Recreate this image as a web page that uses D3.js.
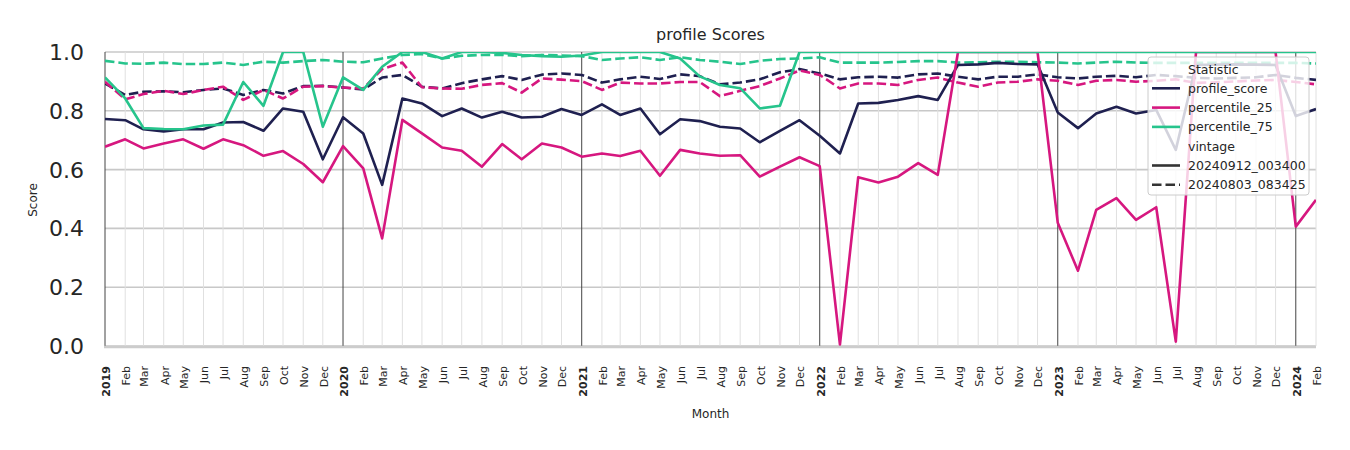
<!DOCTYPE html>
<html>
<head>
<meta charset="utf-8">
<script src="https://cdn.jsdelivr.net/npm/d3@7"></script>
<style>
  body { margin: 0; background: #fff; }
  svg text { font-family: "DejaVu Sans", sans-serif; fill: #262626; }
</style>
</head>
<body>
<svg id="chart" width="1350" height="450"></svg>
<script>
// months Jan 2019 .. Feb 2024
const months = d3.timeMonth.range(new Date(2019, 0, 1), new Date(2024, 2, 1));

const profileNew = [
  0.772, 0.768, 0.737, 0.730, 0.737, 0.737, 0.760, 0.762, 0.732, 0.808, 0.797, 0.635,
  0.778, 0.723, 0.548, 0.842, 0.825, 0.782, 0.808, 0.777, 0.797, 0.777, 0.780, 0.806,
  0.786, 0.822, 0.786, 0.808, 0.720, 0.771, 0.765, 0.746, 0.740, 0.693, 0.732, 0.768,
  0.715, 0.655, 0.825, 0.827, 0.837, 0.850, 0.837, 0.956, 0.958, 0.963, 0.959, 0.958,
  0.794, 0.741, 0.791, 0.814, 0.791, 0.803, 0.667, 0.956, 0.957, 0.958, 0.957, 0.956,
  0.782, 0.806
];
const p25New = [
  0.678, 0.703, 0.672, 0.689, 0.703, 0.671, 0.703, 0.683, 0.647, 0.663, 0.619, 0.557,
  0.680, 0.604, 0.366, 0.769, 0.723, 0.675, 0.664, 0.610, 0.687, 0.635, 0.689, 0.675,
  0.644, 0.655, 0.646, 0.664, 0.579, 0.667, 0.655, 0.647, 0.649, 0.576, 0.610, 0.642,
  0.612, 0.005, 0.574, 0.556, 0.576, 0.622, 0.582, 1.0, 1.0, 1.0, 1.0, 1.0,
  0.419, 0.256, 0.463, 0.503, 0.429, 0.472, 0.015, 1.0, 1.0, 1.0, 1.0, 1.0,
  0.406, 0.497
];
const p75New = [
  0.914, 0.842, 0.741, 0.738, 0.737, 0.750, 0.753, 0.898, 0.817, 1.0, 1.0, 0.746,
  0.914, 0.871, 0.950, 1.0, 1.0, 0.978, 1.0, 1.0, 0.997, 0.990, 0.986, 0.984,
  0.988, 1.0, 1.0, 1.0, 1.0, 0.978, 0.917, 0.888, 0.877, 0.808, 0.817, 1.0,
  1.0, 1.0, 1.0, 1.0, 1.0, 1.0, 1.0, 1.0, 1.0, 1.0, 1.0, 1.0,
  1.0, 1.0, 1.0, 1.0, 1.0, 1.0, 1.0, 1.0, 1.0, 1.0, 1.0, 1.0,
  1.0, 1.0
];
const profileOld = [
  0.893, 0.854, 0.865, 0.866, 0.863, 0.871, 0.876, 0.854, 0.871, 0.859, 0.884, 0.885,
  0.879, 0.873, 0.913, 0.922, 0.882, 0.876, 0.894, 0.907, 0.918, 0.905, 0.923, 0.927,
  0.922, 0.896, 0.907, 0.916, 0.908, 0.924, 0.918, 0.890, 0.896, 0.907, 0.931, 0.942,
  0.927, 0.907, 0.914, 0.916, 0.913, 0.924, 0.927, 0.916, 0.907, 0.916, 0.916, 0.924,
  0.914, 0.910, 0.916, 0.919, 0.914, 0.922, 0.918, 0.912, 0.910, 0.912, 0.914, 0.922,
  0.912, 0.905
];
const p25Old = [
  0.899, 0.839, 0.857, 0.868, 0.857, 0.871, 0.882, 0.837, 0.871, 0.842, 0.882, 0.884,
  0.879, 0.876, 0.942, 0.964, 0.880, 0.876, 0.875, 0.888, 0.894, 0.862, 0.910, 0.906,
  0.901, 0.871, 0.896, 0.893, 0.893, 0.898, 0.898, 0.850, 0.868, 0.884, 0.910, 0.937,
  0.922, 0.876, 0.893, 0.893, 0.888, 0.905, 0.913, 0.896, 0.882, 0.896, 0.899, 0.907,
  0.902, 0.888, 0.902, 0.905, 0.899, 0.902, 0.907, 0.895, 0.897, 0.900, 0.903, 0.905,
  0.898, 0.890
];
const p75Old = [
  0.970, 0.961, 0.960, 0.964, 0.959, 0.959, 0.964, 0.956, 0.967, 0.964, 0.969, 0.973,
  0.967, 0.965, 0.978, 0.990, 0.993, 0.978, 0.987, 0.990, 0.990, 0.986, 0.990, 0.988,
  0.986, 0.973, 0.978, 0.982, 0.973, 0.982, 0.973, 0.967, 0.959, 0.970, 0.976, 0.978,
  0.982, 0.964, 0.964, 0.964, 0.966, 0.969, 0.969, 0.964, 0.965, 0.967, 0.967, 0.965,
  0.964, 0.961, 0.964, 0.967, 0.964, 0.963, 0.963, 0.963, 0.963, 0.963, 0.963, 0.963,
  0.963, 0.961
];

const statistics = ["profile_score", "percentile_25", "percentile_75"];
const vintages = ["20240912_003400", "20240803_083425"];
const yTicks = [0, 0.2, 0.4, 0.6, 0.8, 1.0];
const monthNames = ["Jan", "Feb", "Mar", "Apr", "May", "Jun", "Jul", "Aug", "Sep", "Oct", "Nov", "Dec"];

const colors = { profile_score: "#1f2050", percentile_25: "#d6177f", percentile_75: "#26c48c" };

const series = [
  { stat: "profile_score", vintage: vintages[1], values: profileOld },
  { stat: "percentile_25", vintage: vintages[1], values: p25Old },
  { stat: "percentile_75", vintage: vintages[1], values: p75Old },
  { stat: "profile_score", vintage: vintages[0], values: profileNew },
  { stat: "percentile_25", vintage: vintages[0], values: p25New },
  { stat: "percentile_75", vintage: vintages[0], values: p75New }
];

const plotL = 105, plotR = 1316, plotT = 52, plotB = 346;
const svg = d3.select("#chart");

const x = d3.scaleTime().domain([months[0], months[months.length - 1]]).range([plotL, plotR]);
const y = d3.scaleLinear().domain([0, 1]).range([plotB, plotT]);

// horizontal grid
svg.append("g").selectAll("line").data(yTicks).join("line")
  .attr("x1", plotL).attr("x2", plotR)
  .attr("y1", d => y(d)).attr("y2", d => y(d))
  .attr("stroke", "#c8c8c8").attr("stroke-width", 1.6);

// vertical month grid
svg.append("g").selectAll("line").data(months).join("line")
  .attr("x1", d => x(d)).attr("x2", d => x(d))
  .attr("y1", plotT).attr("y2", plotB)
  .attr("stroke", d => d.getMonth() === 0 ? "#444" : "#e0e0e0")
  .attr("stroke-width", 1);

// bottom spine
svg.append("line").attr("x1", plotL - 1).attr("x2", plotR)
  .attr("y1", plotB + 1).attr("y2", plotB + 1)
  .attr("stroke", "#cccccc").attr("stroke-width", 2.5);

// y tick labels
svg.append("g").selectAll("text").data(yTicks).join("text")
  .attr("x", 84).attr("y", d => y(d))
  .attr("dy", "0.36em").attr("text-anchor", "end")
  .style("font-size", "22px")
  .text(d => d.toFixed(1));

// x tick labels
svg.append("g").selectAll("text").data(months).join("text")
  .attr("transform", d => `translate(${x(d) + 1},366) rotate(-90)`)
  .attr("dy", "0.35em").attr("text-anchor", "end")
  .style("font-size", "11px")
  .style("font-weight", d => d.getMonth() === 0 ? "bold" : "normal")
  .text(d => d.getMonth() === 0 ? d.getFullYear() : monthNames[d.getMonth()]);

// clip
svg.append("clipPath").attr("id", "plot-clip").append("rect")
  .attr("x", plotL).attr("y", plotT).attr("width", plotR - plotL).attr("height", plotB - plotT);

const line = d3.line().x((d, i) => x(months[i])).y(d => y(d));

svg.append("g").attr("clip-path", "url(#plot-clip)")
  .selectAll("path").data(series).join("path")
  .attr("d", d => line(d.values))
  .attr("fill", "none")
  .attr("stroke", d => colors[d.stat])
  .attr("stroke-width", 2.6)
  .attr("stroke-linejoin", "round")
  .attr("stroke-dasharray", d => d.vintage === vintages[1] ? "9.5,4" : null);

// title and axis labels
svg.append("text").attr("x", (plotL + plotR) / 2).attr("y", 40)
  .attr("text-anchor", "middle").style("font-size", "16px").text("profile Scores");
svg.append("text").attr("x", (plotL + plotR) / 2).attr("y", 418)
  .attr("text-anchor", "middle").style("font-size", "12px").text("Month");
svg.append("text").attr("transform", "translate(37,200) rotate(-90)")
  .attr("text-anchor", "middle").style("font-size", "12px").text("Score");

// legend
const lg = svg.append("g");
lg.append("rect").attr("x", 1148).attr("y", 57).attr("width", 161).attr("height", 138)
  .attr("rx", 3).attr("fill", "rgba(255,255,255,0.8)").attr("stroke", "#cccccc");
const legendItems = [
  { label: "Statistic" },
  ...statistics.map(s => ({ label: s, color: colors[s] })),
  { label: "vintage" },
  { label: vintages[0], color: "#333", dash: null },
  { label: vintages[1], color: "#333", dash: "9.5,4" }
];
legendItems.forEach((it, i) => {
  const yy = 69 + i * 19.3;
  if (it.color) {
    lg.append("line").attr("x1", 1152).attr("x2", 1180).attr("y1", yy).attr("y2", yy)
      .attr("stroke", it.color).attr("stroke-width", 2.6)
      .attr("stroke-dasharray", it.dash || null);
  }
  lg.append("text").attr("x", 1188).attr("y", yy).attr("dy", "0.36em")
    .style("font-size", "12.5px").text(it.label);
});
</script>
</body>
</html>
